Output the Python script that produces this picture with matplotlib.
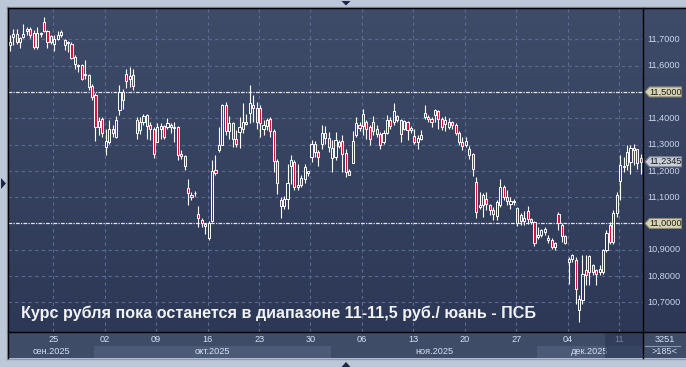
import numpy as np
import matplotlib.pyplot as plt
from matplotlib.patches import Polygon
from matplotlib.lines import Line2D
from matplotlib.colors import LinearSegmentedColormap

plt.rcParams['font.family'] = ['Liberation Sans', 'DejaVu Sans']

# CNY/RUB candles (185 bars)
opens = [11.68, 11.71, 11.72, 11.69, 11.71, 11.73, 11.74, 11.725, 11.67, 11.72,
         11.766, 11.73, 11.712, 11.683, 11.703, 11.715, 11.696, 11.685, 11.683, 11.633,
         11.598, 11.603, 11.563, 11.563, 11.522, 11.49, 11.367, 11.398, 11.29, 11.31,
         11.36, 11.33, 11.43, 11.5, 11.57, 11.548, 11.566, 11.395, 11.354, 11.386,
         11.413, 11.375, 11.36, 11.31, 11.36, 11.37, 11.367, 11.373, 11.368, 11.367,
         11.265, 11.256, 11.135, 11.11, 11.114, 11.035, 11.015, 10.998, 10.945, 11.01,
         11.205, 11.278, 11.3,
         11.45, 11.35, 11.38, 11.32, 11.348, 11.36, 11.386, 11.42, 11.45, 11.44,
         11.44, 11.36, 11.37, 11.398, 11.35, 11.236, 11.09, 11.066, 11.094, 11.22,
         11.233, 11.139, 11.173, 11.17, 11.192, 11.253, 11.303, 11.27, 11.303, 11.345,
         11.325, 11.25, 11.253, 11.31, 11.313, 11.268, 11.198, 11.231, 11.335, 11.376,
         11.416, 11.386, 11.367, 11.386, 11.36, 11.341, 11.31, 11.345, 11.394, 11.386,
         11.408, 11.392, 11.36, 11.386, 11.354, 11.332, 11.31, 11.322, 11.42, 11.405,
         11.398, 11.411,
         11.426, 11.398, 11.379, 11.386, 11.386, 11.376, 11.345, 11.31, 11.297, 11.284,
         11.263, 11.158, 11.062, 11.069, 11.092, 11.069, 11.053, 11.028, 11.069, 11.138,
         11.1, 11.075, 11.081, 11.058, 11.031, 11.009, 11.047, 11.016, 11.006, 10.949,
         10.955, 10.968, 10.945, 10.939, 10.911, 11.037, 10.996, 10.952, 10.853, 10.866,
         10.863, 10.67, 10.708, 10.825, 10.815, 10.843, 10.822, 10.815, 10.815, 10.898,
         10.993, 10.93, 11.04, 11.16, 11.215, 11.221, 11.234, 11.28, 11.282, 11.249]
highs = [11.716, 11.74, 11.738, 11.71, 11.76, 11.745, 11.747, 11.735, 11.745, 11.728,
         11.785, 11.735, 11.718, 11.715, 11.73, 11.735, 11.703, 11.695, 11.69, 11.64,
         11.607, 11.607, 11.62, 11.57, 11.53, 11.497, 11.405, 11.405, 11.36, 11.394,
         11.373, 11.41, 11.525, 11.51, 11.589, 11.596, 11.586, 11.405, 11.405, 11.418,
         11.418, 11.386, 11.367, 11.382, 11.38, 11.376, 11.4, 11.38, 11.386, 11.37,
         11.278, 11.259, 11.17, 11.12, 11.122, 11.068, 11.021, 11.0, 11.01, 11.24,
         11.26, 11.367, 11.455,
         11.46, 11.41, 11.386, 11.355, 11.405, 11.458, 11.418, 11.527, 11.49, 11.46,
         11.45, 11.392, 11.4, 11.405, 11.36, 11.246, 11.1, 11.104, 11.226, 11.26,
         11.24, 11.227, 11.183, 11.227, 11.2, 11.316, 11.312, 11.278, 11.376, 11.37,
         11.348, 11.316, 11.348, 11.316, 11.338, 11.284, 11.208, 11.35, 11.403, 11.386,
         11.436, 11.392, 11.373, 11.408, 11.373, 11.348, 11.354, 11.414, 11.403, 11.459,
         11.414, 11.398, 11.394, 11.389, 11.37, 11.36, 11.335, 11.354, 11.449, 11.411,
         11.405, 11.436,
         11.43, 11.405, 11.408, 11.4, 11.389, 11.383, 11.35, 11.329, 11.329, 11.294,
         11.269, 11.177, 11.121, 11.117, 11.12, 11.075, 11.062, 11.088, 11.17, 11.145,
         11.126, 11.1, 11.092, 11.062, 11.041, 11.047, 11.066, 11.022, 11.009, 10.985,
         10.98, 10.986, 10.955, 10.945, 10.93, 11.044, 11.003, 10.955, 10.872, 10.885,
         10.872, 10.727, 10.879, 10.879, 10.881, 10.847, 10.828, 10.841, 10.904, 10.974,
         11.005, 11.05, 11.12, 11.259, 11.253, 11.297, 11.3, 11.303, 11.284, 11.265]
lows = [11.657, 11.677, 11.683, 11.667, 11.705, 11.715, 11.705, 11.662, 11.665, 11.71,
        11.728, 11.667, 11.683, 11.654, 11.696, 11.709, 11.658, 11.652, 11.626, 11.588,
        11.576, 11.544, 11.55, 11.507, 11.468, 11.312, 11.338, 11.33, 11.262, 11.303,
        11.33, 11.325, 11.414, 11.437, 11.516, 11.52, 11.506, 11.322, 11.34, 11.373,
        11.32, 11.316, 11.249, 11.31, 11.322, 11.322, 11.36, 11.345, 11.31, 11.24,
        11.246, 11.202, 11.07, 11.088, 11.103, 10.986, 10.986, 10.96, 10.936, 11.005,
        11.183, 11.271, 11.297,
        11.335, 11.32, 11.29, 11.29, 11.286, 11.345, 11.373, 11.383, 11.386, 11.36,
        11.33, 11.338, 11.354, 11.329, 11.196, 11.113, 11.021, 11.056, 11.056, 11.15,
        11.127, 11.127, 11.139, 11.152, 11.18, 11.234, 11.253, 11.22, 11.284, 11.303,
        11.272, 11.196, 11.24, 11.285, 11.196, 11.177, 11.183, 11.231, 11.329, 11.35,
        11.335, 11.322, 11.3, 11.335, 11.329, 11.282, 11.303, 11.341, 11.36, 11.373,
        11.386, 11.31, 11.354, 11.316, 11.345, 11.303, 11.284, 11.316, 11.398, 11.386,
        11.367, 11.386,
        11.36, 11.354, 11.35, 11.36, 11.36, 11.335, 11.297, 11.278, 11.291, 11.246,
        11.18, 11.019, 11.056, 11.025, 11.05, 11.034, 11.015, 11.015, 11.062, 11.088,
        11.069, 11.056, 11.069, 10.99, 10.996, 10.996, 10.999, 10.999, 10.914, 10.942,
        10.949, 10.955, 10.924, 10.904, 10.898, 10.975, 10.93, 10.923, 10.77, 10.853,
        10.695, 10.625, 10.695, 10.765, 10.765, 10.803, 10.765, 10.803, 10.809, 10.891,
        10.923, 10.923, 11.024, 11.088, 11.196, 11.202, 11.189, 11.221, 11.208, 11.189]
closes = [11.69, 11.72, 11.69, 11.705, 11.72, 11.74, 11.715, 11.67, 11.725, 11.725,
          11.73, 11.69, 11.69, 11.703, 11.718, 11.728, 11.677, 11.69, 11.63, 11.608,
          11.603, 11.548, 11.57, 11.52, 11.48, 11.367, 11.39, 11.345, 11.312, 11.36,
          11.345, 11.392, 11.5, 11.47, 11.54, 11.562, 11.524, 11.345, 11.385, 11.41,
          11.37, 11.358, 11.265, 11.367, 11.37, 11.329, 11.383, 11.367, 11.364, 11.259,
          11.256, 11.218, 11.116, 11.099, 11.116, 11.022, 11.0, 10.99, 11.003, 11.2,
          11.193, 11.3, 11.45,
          11.35, 11.38, 11.32, 11.303, 11.367, 11.386, 11.377, 11.458, 11.44, 11.386,
          11.38, 11.373, 11.395, 11.35, 11.236, 11.155, 11.065, 11.094, 11.155, 11.24,
          11.139, 11.145, 11.148, 11.215, 11.198, 11.303, 11.27, 11.253, 11.344, 11.325,
          11.29, 11.288, 11.316, 11.295, 11.265, 11.196, 11.186, 11.312, 11.38, 11.363,
          11.37, 11.36, 11.32, 11.35, 11.341, 11.297, 11.345, 11.394, 11.37, 11.426,
          11.392, 11.341, 11.39, 11.354, 11.363, 11.31, 11.325, 11.335, 11.405, 11.398,
          11.386, 11.43,
          11.398, 11.367, 11.392, 11.367, 11.373, 11.345, 11.31, 11.295, 11.313, 11.259,
          11.206, 11.044, 11.069, 11.107, 11.075, 11.05, 11.037, 11.081, 11.138, 11.1,
          11.084, 11.084, 11.084, 11.003, 11.009, 11.022, 11.016, 11.006, 10.926, 10.957,
          10.974, 10.98, 10.936, 10.911, 10.926, 11.0, 10.952, 10.927, 10.866, 10.879,
          10.752, 10.714, 10.809, 10.803, 10.876, 10.815, 10.809, 10.828, 10.898, 10.965,
          10.929, 11.04, 11.109, 11.223, 11.22, 11.272, 11.285, 11.285, 11.228, 11.2345]

price_ticks = [10.7, 10.8, 10.9, 11.0, 11.1, 11.2, 11.3, 11.4, 11.5, 11.6, 11.7]
level_lines = [11.0, 11.5]
day_ticks = [12.7, 27.7, 42.7, 57.7, 72.7, 87.7, 102.7, 117.7, 132.7, 147.7, 162.7, 177.7]
day_labels = ['25', '02', '09', '16', '23', '30', '06', '13', '20', '27', '04', '11']
month_edges = [-0.5, 24.7, 93.7, 153.7, 184.65]
month_labels = ['сен.2025', 'окт.2025', 'ноя.2025', 'дек.2025']
title = 'Курс рубля пока останется в диапазоне 11-11,5 руб./ юань - ПСБ'
counter_text = '3251'

W, H = 686, 367
fig = plt.figure(figsize=(W / 100, H / 100), dpi=100, facecolor='#bcc8d8')


def box(x0, y0, x1, y1):
    return [x0 / W, 1 - y1 / H, (x1 - x0) / W, (y1 - y0) / H]


def fmt(v):
    return f'{v:.4f}'.replace('.', ',')


ax = fig.add_axes(box(8, 8, 643, 332))
axr = fig.add_axes(box(643, 8, 686, 332))
axb = fig.add_axes(box(8, 332, 643, 358))
axn = fig.add_axes(box(643, 332, 686, 358))

xlim = (-0.5, 184.65)
ylim = (10.5875, 11.819)

cmap = LinearSegmentedColormap.from_list('bg', ['#2c3856', '#3f4c69'])
grad = np.linspace(0, 1, 256).reshape(-1, 1)
for a in (ax, axr):
    a.imshow(grad, extent=[0, 1, 0, 1], transform=a.transAxes, origin='lower',
             aspect='auto', cmap=cmap, zorder=0)

# grid
for v in price_ticks:
    if np.isclose(v, level_lines).any():
        ax.axhline(v, color='#e4e4e4', lw=0.9, ls=(0, (3, 1, 1, 1)), zorder=2)
    else:
        ax.axhline(v, color='#5a6a92', lw=0.8, ls=(0, (3, 3)), zorder=1)
for t in day_ticks:
    ax.axvline(t, color='#5a6a92', lw=0.8, ls=(0, (3, 3)), zorder=1)

# candles
o, h, l, c = map(np.array, (opens, highs, lows, closes))
idx = np.arange(len(c))
top = np.maximum(o, c)
bot = np.minimum(o, c)
ax.vlines(idx, top, h, color='white', lw=0.8, zorder=3)
ax.vlines(idx, l, bot, color='white', lw=0.8, zorder=3)
colors = ['none' if up else '#d8103a' for up in (c >= o)]
ax.bar(idx, top - bot, bottom=bot, width=0.62, color=colors,
       edgecolor='white', linewidth=0.7, zorder=4)

ax.set_xlim(*xlim)
ax.set_ylim(*ylim)
ax.axis('off')

# right price scale
axr.set_xlim(0, 43)
axr.set_ylim(*ylim)
axr.axis('off')
for v in price_ticks:
    if not np.isclose(v, level_lines).any():
        axr.text(4, v, fmt(v), color='#c9d5ea', fontsize=6.6, va='center', ha='left', zorder=3)


def tag(v, fc, ec):
    hh = 0.019
    pts = [(2, v), (6.5, v + hh), (38.5, v + hh), (38.5, v - hh), (6.5, v - hh)]
    axr.add_patch(Polygon(pts, closed=True, fc=fc, ec=ec, lw=0.8, zorder=5))
    axr.text(6.8, v, fmt(v), color='#1c1c1c', fontsize=6.6, va='center', ha='left', zorder=6)


for v in level_lines:
    tag(v, '#d8d3b2', '#8c8870')
tag(closes[-1], '#c8ced8', '#7e8694')

# date bar
axb.set_xlim(*xlim)
axb.set_ylim(0, 26)
axb.axis('off')
axb.axvspan(*xlim, color='#3f4c68', zorder=0)
for i, name in enumerate(month_labels):
    a, b = month_edges[i], month_edges[i + 1]
    if i % 2 == 1:
        axb.fill_between([a, b], 0, 12, color='#4b5a77', lw=0, zorder=1)
    axb.text((a + b) / 2, 6.3, name, color='#d4e0f4', fontsize=6.6,
             ha='center', va='center', zorder=2)
for t, s in zip(day_ticks, day_labels):
    axb.text(t, 18, s, color='#d4e0f4', fontsize=6.6, ha='center', va='center', zorder=2)
axb.fill_between([173.5, xlim[1]], 0, 26, color='#263250', alpha=0.55, lw=0, zorder=3)

# counter box
axn.set_xlim(0, 43)
axn.set_ylim(0, 26)
axn.axis('off')
axn.axvspan(0, 43, color='#3f4c68', zorder=0)
axn.text(22, 19, counter_text, color='#d4e0f4', fontsize=6.6, ha='center', va='center')
axn.text(22, 6, f'>{len(closes)}<', color='#d4e0f4', fontsize=6.6, ha='center', va='center')
axn.plot([2, 37], [12, 12], color='#8a98b0', lw=0.8)

# title
fig.text(21 / W, 1 - 318 / H, title, fontsize=11.6, fontweight='bold',
         color='#f0f2f4', va='baseline', zorder=10)


# frame lines
def fline(x0, y0, x1, y1, color='black', lw=1.0):
    fig.add_artist(Line2D([x0 / W, x1 / W], [1 - y0 / H, 1 - y1 / H],
                          color=color, lw=lw, transform=fig.transFigure))


fline(7, 6.5, 686, 6.5, '#8e9ab0')
fline(6.5, 7, 6.5, 359, '#8e9ab0')
fline(7, 358.5, 686, 358.5, '#8e9ab0')
fline(8, 8, 686, 8)
fline(8, 8, 8, 358)
fline(8, 332, 686, 332)
fline(643, 8, 643, 358)


def ftri(pts):
    fig.add_artist(Polygon([(x / W, 1 - y / H) for x, y in pts], closed=True,
                           fc='#1e2844', ec='none', transform=fig.transFigure))


ftri([(341.5, 1), (350.5, 1), (346, 5.5)])
ftri([(341.5, 367), (350.5, 367), (346, 362)])
ftri([(1, 178), (1, 189), (6, 183.5)])

fig.savefig('out.png', dpi=100, facecolor=fig.get_facecolor())
